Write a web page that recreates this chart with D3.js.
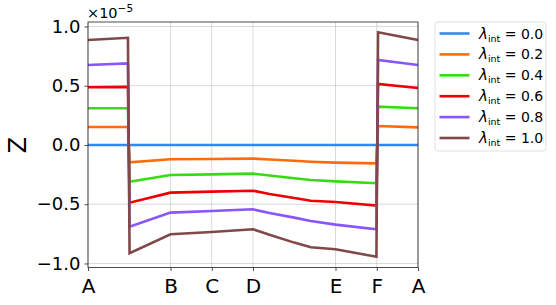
<!DOCTYPE html>
<html lang="en">
<head>
    <meta charset="UTF-8">
    <title>Z along k-path</title>
    <script src="https://d3js.org/d3.v7.min.js"></script>
    <style>
        body { margin: 0; background: white; }
        svg { font-family: "DejaVu Sans", sans-serif; }
        .grid line { stroke: #b0b0b0; stroke-opacity: 0.6; stroke-width: 0.8px; }
        .series { fill: none; stroke-width: 2.6px; stroke-linejoin: miter; }
</style>
</head>
<body>
    <div id="container"></div>
    <script>
const width = 556, height = 305;
const margin = { top: 22, right: 138, bottom: 37.5, left: 88 };

// k-path positions of the sampled points (fraction of path length)
const kpos = [0, 0.121, 0.126, 0.25, 0.375, 0.5, 0.55, 0.625, 0.675, 0.75, 0.874, 0.879, 1];

// Z values (in units of 1e-5) for each lambda_int
const z00 = [0, 0, 0, 0, 0, 0, 0, 0, 0, 0, 0, 0, 0];
const z02 = [0.152, 0.152, -0.146, -0.121, -0.118, -0.115, -0.122, -0.133, -0.141, -0.149, -0.155, 0.160, 0.149];
const z04 = [0.310, 0.310, -0.310, -0.253, -0.248, -0.242, -0.257, -0.281, -0.295, -0.307, -0.323, 0.323, 0.310];
const z06 = [0.487, 0.490, -0.487, -0.402, -0.394, -0.386, -0.413, -0.447, -0.470, -0.481, -0.512, 0.515, 0.481];
const z08 = [0.675, 0.689, -0.689, -0.571, -0.557, -0.543, -0.574, -0.613, -0.641, -0.672, -0.711, 0.717, 0.675];
const z10 = [0.886, 0.905, -0.914, -0.754, -0.734, -0.711, -0.758, -0.824, -0.863, -0.880, -0.943, 0.951, 0.886];

const lambdas = ["0.0", "0.2", "0.4", "0.6", "0.8", "1.0"];
const seriesValues = [z00, z02, z04, z06, z08, z10];
const colors = ["#3388ee", "#ff6a0a", "#33dd11", "#ee0000", "#8855ff", "#804848"];

// high-symmetry points on the x axis
const symPos = [0, 0.25, 0.375, 0.5, 0.75, 0.875, 1];
const symLabels = ["A", "B", "C", "D", "E", "F", "A"];
const yTicks = [-1, -0.5, 0, 0.5, 1];

const svg = d3.select("#container")
    .append("svg")
    .attr("width", width)
    .attr("height", height);

const x = d3.scaleLinear().domain([0, 1]).range([margin.left, width - margin.right]);
const y = d3.scaleLinear().domain([-1.034, 1.038]).range([height - margin.bottom, margin.top]);

// grid
const grid = svg.append("g").attr("class", "grid");
grid.selectAll(".gx").data(symPos).enter().append("line")
    .attr("x1", d => x(d)).attr("x2", d => x(d))
    .attr("y1", y.range()[0]).attr("y2", y.range()[1]);
grid.selectAll(".gy").data(yTicks).enter().append("line")
    .attr("x1", x.range()[0]).attr("x2", x.range()[1])
    .attr("y1", d => y(d)).attr("y2", d => y(d));

// lines
const line = d3.line()
    .x((d, i) => x(kpos[i]))
    .y(d => y(d));

svg.selectAll(".series")
    .data(seriesValues)
    .enter().append("path")
    .attr("class", "series")
    .attr("stroke", (d, i) => colors[i])
    .attr("d", d => line(d));

// axes
const fmt = d => d3.format(".1f")(d).replace("-", "\u2212");
const xAxis = svg.append("g")
    .attr("transform", `translate(0,${height - margin.bottom})`)
    .call(d3.axisBottom(x).tickValues(symPos).tickFormat((d, i) => symLabels[i]).tickSize(3.5).tickPadding(4));
const yAxis = svg.append("g")
    .attr("transform", `translate(${margin.left},0)`)
    .call(d3.axisLeft(y).tickValues(yTicks).tickFormat(fmt).tickSize(3.5).tickPadding(4));

[xAxis, yAxis].forEach(g => {
    g.select(".domain").remove();
    g.selectAll("line").attr("stroke", "#222").attr("stroke-width", 0.8);
    g.selectAll("text").attr("fill", "black").style("font-family", "DejaVu Sans");
});
yAxis.selectAll("text").style("font-size", "18px");
xAxis.selectAll("text").style("font-size", "20px").attr("dy", "0.92em");

// frame
svg.append("rect")
    .attr("x", x.range()[0]).attr("y", y.range()[1])
    .attr("width", x.range()[1] - x.range()[0])
    .attr("height", y.range()[0] - y.range()[1])
    .attr("fill", "none").attr("stroke", "#222").attr("stroke-width", 0.8);

// offset text
const off = svg.append("text").attr("x", 87).attr("y", 17.5)
    .style("font-size", "14.5px");
off.append("tspan").text("\u00d710");
off.append("tspan").attr("dy", -5.5).style("font-size", "10.5px").text("\u22125");

// y label
svg.append("text")
    .attr("transform", "translate(26,145) rotate(-90)")
    .attr("text-anchor", "middle")
    .style("font-size", "24px")
    .text("Z");

// legend
const legend = svg.append("g").attr("transform", "translate(435,22)");
legend.append("rect")
    .attr("width", 111).attr("height", 129).attr("rx", 3)
    .attr("fill", "white").attr("stroke", "#d8d8d8").attr("stroke-width", 0.8);

const rows = legend.selectAll(".row").data(lambdas).enter().append("g")
    .attr("transform", (d, i) => `translate(0,${11.5 + i * 20.9})`);
rows.append("line")
    .attr("x1", 4.5).attr("x2", 34.5)
    .attr("stroke", (d, i) => colors[i]).attr("stroke-width", 2.6);
const label = rows.append("text").attr("x", 44).attr("y", 5)
    .style("font-size", "14px");
label.append("tspan").style("font-style", "italic").style("font-size", "15px").text("\u03bb");
label.append("tspan").attr("dy", 3).style("font-size", "9.5px").text("int");
label.append("tspan").attr("dy", -3).text(d => " = " + d);
</script>
</body>
</html>
